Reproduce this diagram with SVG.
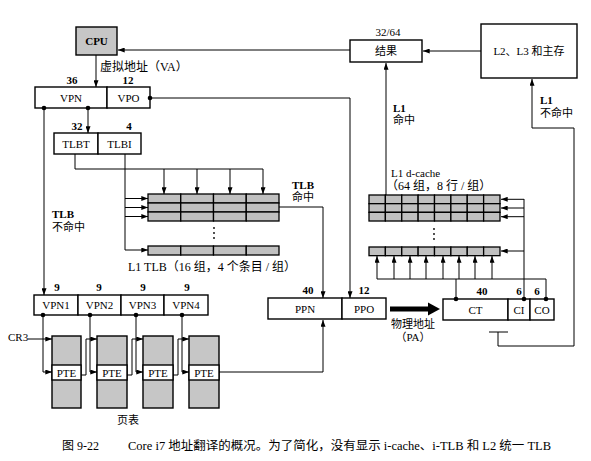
<svg xmlns="http://www.w3.org/2000/svg" width="591" height="461" viewBox="0 0 591 461">
<defs>
<marker id="ah" viewBox="0 0 8 6" refX="8" refY="3" markerWidth="7" markerHeight="5" markerUnits="userSpaceOnUse" orient="auto">
<path d="M0,0 L8,3 L0,6 z" fill="#000"/>
</marker>
<style>
.box{fill:#fff;stroke:#000;stroke-width:1.4}
.gray{fill:#c6c6c6;stroke:#000;stroke-width:1.4}
.cell{fill:#c0c0c0;stroke:#000;stroke-width:1.3}
.ln{fill:none;stroke:#000;stroke-width:1}
.ar{fill:none;stroke:#000;stroke-width:1;marker-end:url(#ah)}
text{font-family:"Liberation Serif","Noto Sans CJK SC",serif;font-size:11px;fill:#000}
.b{font-weight:bold}
.m{text-anchor:middle}
.cn{font-size:11px}
.cl{font-size:12px}
.cap{font-size:12px}
.dot{fill:#000}
</style>
</defs>
<rect width="591" height="461" fill="#fff"/>

<g id="connectors">
<path class="ar" d="M350,50 L118,50"/>
<path class="ar" d="M481,51 L423,51"/>
<path class="ar" d="M96,55 L96,87"/>
<path class="ar" d="M88,108 L88,133"/>
<path class="ar" d="M150,98 L350,98 L350,298"/>
<path class="ln" d="M75,154 L75,169 L263,169"/>
<path class="ar" d="M164,169 L164,194"/>
<path class="ar" d="M197,169 L197,194"/>
<path class="ar" d="M230,169 L230,194"/>
<path class="ar" d="M263,169 L263,194"/>
<path class="ar" d="M125,154 L125,250 L148,250"/>
<path class="ar" d="M125,198.5 L148,198.5"/>
<path class="ar" d="M125,207.5 L148,207.5"/>
<path class="ar" d="M125,216.5 L148,216.5"/>
<path class="ar" d="M279,207 L323,207 L323,298"/>
<path class="ar" d="M44,108 L44,295"/>
<path class="ar" d="M28,339 L52,339"/>
<path class="ar" d="M43,315 L43,372 L52,372"/>
<path class="ar" d="M90,315 L90,372 L97,372"/>
<path class="ar" d="M136,315 L136,372 L143,372"/>
<path class="ar" d="M182,315 L182,372 L189,372"/>
<path class="ar" d="M81,375 L86,375 L86,339 L97,339"/>
<path class="ar" d="M127,375 L132,375 L132,339 L143,339"/>
<path class="ar" d="M173,375 L178,375 L178,339 L189,339"/>
<path class="ar" d="M219,372 L323,372 L323,320"/>
<path d="M390,309 L430,309" stroke="#000" stroke-width="5" fill="none"/>
<path d="M428,302.5 L440,309 L428,315.5 z" fill="#000"/>
<path class="ln" d="M524,299 L524,199"/>
<path class="ar" d="M524,199.3 L501,199.3"/>
<path class="ar" d="M524,208 L501,208"/>
<path class="ar" d="M524,216.7 L501,216.7"/>
<path class="ar" d="M524,251 L501,251"/>
<path class="ln" d="M377,279 L546,279"/>
<path class="ln" d="M456,279 L456,299"/>
<path class="ln" d="M546,279 L546,299"/>
<path class="ar" d="M377,279 L377,256"/>
<path class="ar" d="M394,279 L394,256"/>
<path class="ar" d="M410,279 L410,256"/>
<path class="ar" d="M426,279 L426,256"/>
<path class="ar" d="M443,279 L443,256"/>
<path class="ar" d="M459,279 L459,256"/>
<path class="ar" d="M475,279 L475,256"/>
<path class="ar" d="M492,279 L492,256"/>
<path class="ar" d="M386,195 L386,63"/>
<path class="ar" d="M498,332 L498,346 L574,346 L574,128 L532,128 L532,79"/>
<path class="ln" d="M489,332 L508,332"/>
</g>

<g id="cpu">
<rect class="gray" x="76" y="27" width="41" height="28"/>
<text class="b m" x="96.5" y="45">CPU</text>
</g>
<g id="va-label">
<text class="cl" x="100" y="71">虚拟地址（VA）</text>
</g>

<g id="va">
<rect class="box" x="35" y="87" width="72" height="21"/>
<rect class="box" x="107" y="87" width="43" height="21"/>
<text class="m" x="71" y="101.5">VPN</text>
<text class="m" x="128.5" y="101.5">VPO</text>
<text class="b m" x="72" y="84">36</text>
<text class="b m" x="128" y="84">12</text>
<circle class="dot" cx="44" cy="108" r="2.3"/>
<circle class="dot" cx="88" cy="108" r="2.3"/>
<circle class="dot" cx="150" cy="98" r="2.3"/>
</g>

<g id="tlbt">
<rect class="box" x="54" y="133" width="44" height="21"/>
<rect class="box" x="98" y="133" width="43" height="21"/>
<text class="m" x="76" y="147.5">TLBT</text>
<text class="m" x="119.5" y="147.5">TLBI</text>
<text class="b m" x="77" y="130">32</text>
<text class="b m" x="129" y="130">4</text>
</g>

<g id="tlb">
<g id="trow">
<rect class="cell" x="148" y="194" width="32.75" height="9"/>
<rect class="cell" x="180.75" y="194" width="32.75" height="9"/>
<rect class="cell" x="213.5" y="194" width="32.75" height="9"/>
<rect class="cell" x="246.25" y="194" width="32.75" height="9"/>
</g>
<use href="#trow" y="9"/>
<use href="#trow" y="18"/>
<use href="#trow" y="52"/>
<circle class="dot" cx="214" cy="228" r="0.9"/>
<circle class="dot" cx="214" cy="233" r="0.9"/>
<circle class="dot" cx="214" cy="238" r="0.9"/>
<text class="cl" x="128" y="271">L1 TLB（16 组，4 个条目 / 组）</text>
</g>

<g id="tlb-labels">
<text class="b" x="292" y="189">TLB</text>
<text class="cn" x="292" y="201">命中</text>
<text class="b" x="52" y="218">TLB</text>
<text class="cn" x="52" y="231">不命中</text>
</g>

<g id="vpn14">
<rect class="box" x="34" y="295" width="44" height="20"/>
<rect class="box" x="78" y="295" width="43" height="20"/>
<rect class="box" x="121" y="295" width="43" height="20"/>
<rect class="box" x="164" y="295" width="44" height="20"/>
<text class="m" x="56" y="309">VPN1</text>
<text class="m" x="99.5" y="309">VPN2</text>
<text class="m" x="142.5" y="309">VPN3</text>
<text class="m" x="186" y="309">VPN4</text>
<text class="b m" x="57" y="291">9</text>
<text class="b m" x="99" y="291">9</text>
<text class="b m" x="143" y="291">9</text>
<text class="b m" x="187" y="291">9</text>
<circle class="dot" cx="43" cy="315" r="2.3"/>
<circle class="dot" cx="90" cy="315" r="2.3"/>
<circle class="dot" cx="136" cy="315" r="2.3"/>
<circle class="dot" cx="182" cy="315" r="2.3"/>
</g>

<g id="cr3"><text x="8" y="341">CR3</text></g>

<g id="pt1">
<rect class="gray" x="52" y="336" width="29" height="72"/>
<rect class="box" x="52" y="365" width="29" height="15"/>
<text class="m" x="66.5" y="376.5">PTE</text>
</g>
<g id="pt2">
<rect class="gray" x="97" y="336" width="30" height="72"/>
<rect class="box" x="97" y="365" width="30" height="15"/>
<text class="m" x="112" y="376.5">PTE</text>
</g>
<g id="pt3">
<rect class="gray" x="143" y="336" width="30" height="72"/>
<rect class="box" x="143" y="365" width="30" height="15"/>
<text class="m" x="158" y="376.5">PTE</text>
</g>
<g id="pt4">
<rect class="gray" x="189" y="336" width="30" height="72"/>
<rect class="box" x="189" y="365" width="30" height="15"/>
<text class="m" x="204" y="376.5">PTE</text>
</g>
<g id="pt-label"><text class="cn m" x="128" y="424">页表</text></g>

<g id="pa">
<rect class="box" x="268" y="298" width="74" height="21"/>
<rect class="box" x="342" y="298" width="44" height="21"/>
<text class="m" x="305" y="312.5">PPN</text>
<text class="m" x="364" y="312.5">PPO</text>
<text class="b m" x="308" y="294">40</text>
<text class="b m" x="364" y="294">12</text>
</g>
<g id="pa-label">
<text class="cn m" x="413" y="328">物理地址</text>
<text class="cn m" x="413" y="341">（PA）</text>
</g>

<g id="ctcico">
<rect class="box" x="443" y="299" width="65" height="21"/>
<rect class="box" x="508" y="299" width="22" height="21"/>
<rect class="box" x="530" y="299" width="24" height="21"/>
<text class="m" x="475.5" y="313.5">CT</text>
<text class="m" x="519" y="313.5">CI</text>
<text class="m" x="542" y="313.5">CO</text>
<text class="b m" x="482" y="295">40</text>
<text class="b m" x="519" y="295">6</text>
<text class="b m" x="537" y="295">6</text>
<circle class="dot" cx="456" cy="299" r="2.3"/>
<circle class="dot" cx="524" cy="299" r="2.3"/>
<circle class="dot" cx="546" cy="299" r="2.3"/>
</g>

<g id="dcache">
<g id="crow1">
<rect class="cell" x="369" y="195" width="16.375" height="8.67"/>
<rect class="cell" x="385.375" y="195" width="16.375" height="8.67"/>
<rect class="cell" x="401.75" y="195" width="16.375" height="8.67"/>
<rect class="cell" x="418.125" y="195" width="16.375" height="8.67"/>
<rect class="cell" x="434.5" y="195" width="16.375" height="8.67"/>
<rect class="cell" x="450.875" y="195" width="16.375" height="8.67"/>
<rect class="cell" x="467.25" y="195" width="16.375" height="8.67"/>
<rect class="cell" x="483.625" y="195" width="16.375" height="8.67"/>
</g>
<use href="#crow1" y="8.67"/>
<use href="#crow1" y="17.34"/>
<use href="#crow1" y="52"/>
<circle class="dot" cx="434" cy="229" r="0.9"/>
<circle class="dot" cx="434" cy="234" r="0.9"/>
<circle class="dot" cx="434" cy="239" r="0.9"/>
<text x="391" y="177">L1 d-cache</text>
<text class="cl" x="386" y="190">（64 组，8 行 / 组）</text>
</g>

<g id="result">
<rect class="box" x="350" y="40" width="72" height="22"/>
<text class="cn m" x="386" y="55">结果</text>
<text class="m" x="388" y="36">32/64</text>
</g>

<g id="l2">
<rect class="box" x="481" y="24" width="96" height="54"/>
<text class="cn m" x="529" y="55">L2、L3 和主存</text>
</g>

<g id="l1-labels">
<text class="b" x="393" y="112">L1</text>
<text class="cn" x="393" y="124">命中</text>
<text class="b" x="540" y="104">L1</text>
<text class="cn" x="540" y="117">不命中</text>
</g>

<g id="caption">
<text class="cap" x="62" y="450">图 9-22</text>
<text class="cap" x="128" y="450" textLength="423" lengthAdjust="spacingAndGlyphs">Core i7 地址翻译的概况。为了简化，没有显示 i-cache、i-TLB 和 L2 统一 TLB</text>
</g>
</svg>
